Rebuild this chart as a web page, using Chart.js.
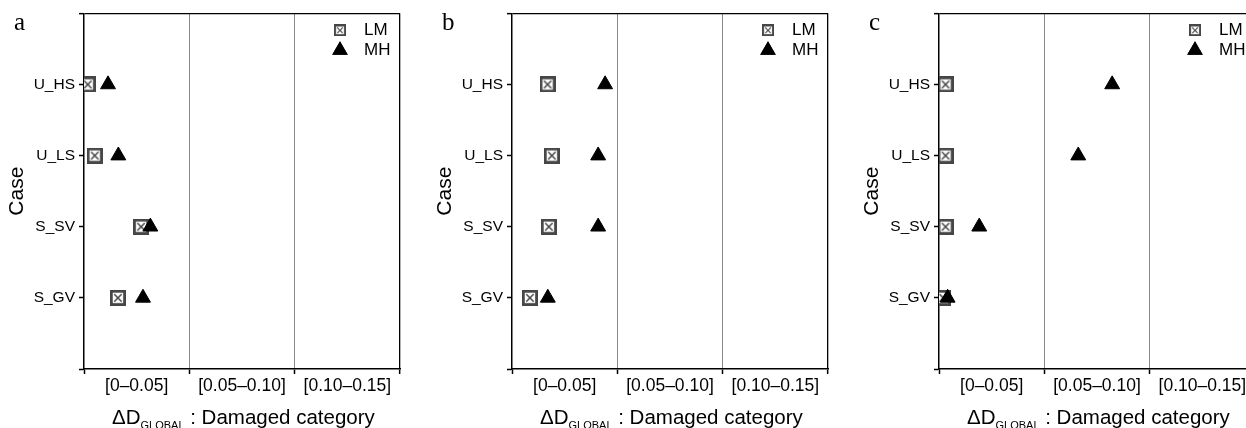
<!DOCTYPE html>
<html><head><meta charset="utf-8">
<script src="https://cdn.jsdelivr.net/npm/chart.js@4/dist/chart.umd.min.js"></script>
<style>
html,body{margin:0;padding:0;background:#fff;overflow:hidden;width:1246px;height:428px;}
#wrap{position:relative;width:1300px;height:428px;}
canvas{position:absolute;top:0;}
</style></head><body>
<div id="wrap">
<canvas id="ca" width="428" height="428" style="left:0px"></canvas>
<canvas id="cb" width="428" height="428" style="left:428px"></canvas>
<canvas id="cc" width="428" height="428" style="left:855px"></canvas>
</div>
<script>
// ---- data ----
const categories = ['U_HS', 'U_LS', 'S_SV', 'S_GV'];
const xTickLabels = ['[0\u20130.05]', '[0.05\u20130.10]', '[0.10\u20130.15]'];
const seriesNames = ['LM', 'MH'];
const panelLetters = ['a', 'b', 'c'];
const a_LM = [0.0018, 0.0051, 0.0271, 0.0161];
const a_MH = [0.0114, 0.0163, 0.0315, 0.0280];
const b_LM = [0.0169, 0.0189, 0.0175, 0.0085];
const b_MH = [0.0442, 0.0409, 0.0409, 0.0170];
const c_LM = [0.0031, 0.0031, 0.0031, 0.0020];
const c_MH = [0.0822, 0.0661, 0.0191, 0.0041];
const xTitleMain = '\u0394D';
const xTitleSub = 'GLOBAL';
const xTitleRest = ' : Damaged category';
const yTitle = 'Case';

const SANS = '"Liberation Sans", Arial, sans-serif';
const SERIF = '"Liberation Serif", "Times New Roman", serif';

function makeBoxX() {
  const c = document.createElement('canvas');
  c.width = 16; c.height = 16;
  const g = c.getContext('2d');
  g.fillStyle = '#fff'; g.fillRect(1, 1, 14, 14);
  g.strokeStyle = '#464646'; g.lineWidth = 2.8;
  g.strokeRect(1.4, 1.4, 13.2, 13.2);
  g.lineWidth = 1.5;
  g.beginPath();
  g.moveTo(4.3, 4.3); g.lineTo(11.7, 11.7);
  g.moveTo(11.7, 4.3); g.lineTo(4.3, 11.7);
  g.stroke();
  return c;
}
const boxX = makeBoxX();

const T = 'rgba(0,0,0,0)';
const xIdx = v => Math.round(v / 0.025);

const decor = {
  id: 'decor',
  afterDraw(chart) {
    const ctx = chart.ctx, ca = chart.chartArea;
    ctx.save();
    // panel letter
    ctx.fillStyle = '#000';
    ctx.textBaseline = 'alphabetic';
    ctx.textAlign = 'left';
    ctx.font = '25px ' + SERIF;
    ctx.fillText(chart.options.panelLetter, ca.left - 70, 30);
    // legend
    const ds = chart.data.datasets;
    const lx = ca.right - 60, tx = ca.right - 36;
    const ys = [ca.top + 17, ca.top + 37];
    ds.forEach((d, i) => {
      const y = ys[i];
      if (d.pointStyle === 'triangle') {
        ctx.fillStyle = '#000';
        Chart.helpers.drawPoint(ctx, {pointStyle: 'triangle', radius: 9, rotation: 0, borderWidth: 0}, lx, y);
        ctx.fill();
      } else {
        ctx.drawImage(d.pointStyle, lx - 6, y - 6, 12, 12);
      }
      ctx.fillStyle = '#000';
      ctx.font = '17px ' + SANS;
      ctx.textBaseline = 'middle';
      ctx.fillText(d.label, tx, y);
    });
    // x title with subscript
    ctx.textBaseline = 'alphabetic';
    let x = ca.left + 28;
    const yb = 424;
    ctx.font = '20.5px ' + SANS;
    ctx.fillText(xTitleMain, x, yb);
    x += ctx.measureText(xTitleMain).width;
    ctx.font = '11px ' + SANS;
    ctx.fillText(xTitleSub, x, yb + 4.5);
    x += ctx.measureText(xTitleSub).width;
    ctx.font = '20.5px ' + SANS;
    ctx.fillText(xTitleRest, x, yb);
    ctx.restore();
  }
};

function makeChart(id, lm, mh, letter) {
  return new Chart(document.getElementById(id), {
    type: 'scatter',
    data: {
      datasets: [
        {label: seriesNames[0], data: lm.map((v, i) => ({x: v, y: i + 1})),
         pointStyle: boxX, pointRadius: 8, order: 1},
        {label: seriesNames[1], data: mh.map((v, i) => ({x: v, y: i + 1})),
         pointStyle: 'triangle', pointRadius: 8.6, backgroundColor: '#000', borderColor: '#000', borderWidth: 1, order: 0}
      ]
    },
    options: {
      panelLetter: letter,
      responsive: false, animation: false, events: [],
      layout: {padding: {left: 0, right: 28, top: 13, bottom: 0}},
      plugins: {legend: {display: false}, tooltip: {enabled: false}, title: {display: false}},
      scales: {
        x: {
          type: 'linear', min: 0, max: 0.15,
          afterFit(s) { s.height = 59; },
          ticks: {
            stepSize: 0.025, autoSkip: false, maxRotation: 0, minRotation: 0, padding: 2,
            color: '#000', font: {family: SANS, size: 17.5},
            callback: v => { const i = xIdx(v); return i % 2 === 1 ? xTickLabels[(i - 1) / 2] : ''; }
          },
          grid: {
            drawTicks: true, tickLength: 5,
            color: c => { const i = xIdx(c.tick.value); return (i === 2 || i === 4) ? '#8a8a8a' : (i === 6 ? '#000' : T); },
            lineWidth: c => { const i = xIdx(c.tick.value); return i === 6 ? 1.3 : 1; },
            tickColor: c => { const i = xIdx(c.tick.value); return i % 2 === 0 ? '#000' : T; },
            tickWidth: 1.5
          },
          border: {display: true, color: '#000', width: 1.5}
        },
        y: {
          type: 'linear', min: 0, max: 5, reverse: true,
          afterFit(s) { s.width = 84; },
          ticks: {
            stepSize: 1, autoSkip: false, padding: 4, color: '#000',
            font: {family: SANS, size: 15.5},
            callback: v => categories[v - 1] || ''
          },
          grid: {
            drawTicks: true, tickLength: 5,
            color: c => c.tick.value === 0 ? '#000' : T,
            lineWidth: c => c.tick.value === 0 ? 1.3 : 1,
            tickColor: '#000', tickWidth: 1.5
          },
          border: {display: true, color: '#000', width: 1.5},
          title: {display: true, text: yTitle, color: '#000', font: {family: SANS, size: 21}, padding: {top: 5, bottom: 0}}
        }
      }
    },
    plugins: [decor]
  });
}

makeChart('ca', a_LM, a_MH, panelLetters[0]);
makeChart('cb', b_LM, b_MH, panelLetters[1]);
makeChart('cc', c_LM, c_MH, panelLetters[2]);
</script>
</body></html>
